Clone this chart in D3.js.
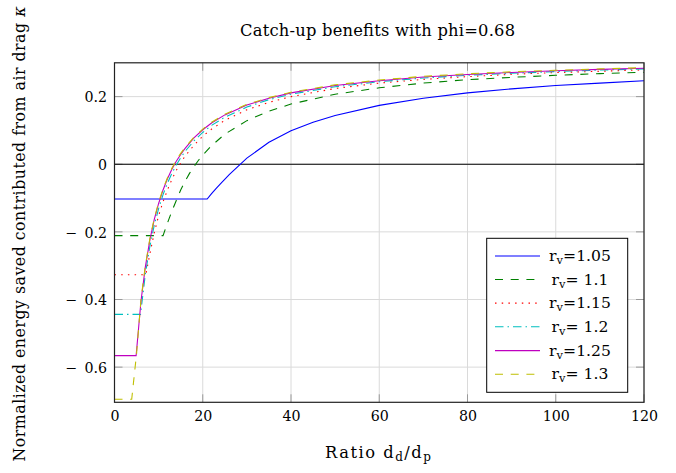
<!DOCTYPE html>
<html><head><meta charset="utf-8">
<script src="https://cdn.jsdelivr.net/npm/d3@7"></script>
<style>body{margin:0;background:#fff} svg text{font-family:"DejaVu Serif";}</style>
</head><body>
<svg id="c" width="676" height="473" xmlns="http://www.w3.org/2000/svg"></svg>
<script>
// ---- data ----
const xTicks = [0, 20, 40, 60, 80, 100, 120];
const yTicks = [-0.6, -0.4, -0.2, 0, 0.2];
const rvLabels = ["1.05", " 1.1", "1.15", " 1.2", "1.25", " 1.3"];

const x_rv105 = [0, 21, 22, 23, 24, 26, 28, 30, 35, 40, 45, 50, 60, 70, 80, 90, 100, 110, 120];
const y_rv105 = [-0.103, -0.103, -0.087, -0.072, -0.058, -0.031, -0.006, 0.018, 0.065, 0.099, 0.124, 0.144, 0.174, 0.195, 0.211, 0.223, 0.233, 0.240, 0.247];

const x_rv110 = [0, 11, 12, 13, 14, 15, 16, 17, 18, 19, 20, 22, 25, 30, 35, 40, 50, 60, 70, 80, 90, 100, 110, 120];
const y_rv110 = [-0.211, -0.211, -0.174, -0.139, -0.107, -0.076, -0.050, -0.027, -0.007, 0.011, 0.027, 0.055, 0.089, 0.129, 0.157, 0.178, 0.207, 0.226, 0.240, 0.250, 0.257, 0.263, 0.268, 0.272];

const x_rv115 = [0, 7.1, 8, 9, 10, 11, 12, 13, 14, 15, 16, 18, 20, 22, 25, 30, 35, 40, 50, 60, 70, 80, 90, 100, 110, 120];
const y_rv115 = [-0.327, -0.327, -0.266, -0.203, -0.152, -0.111, -0.076, -0.045, -0.018, 0.004, 0.024, 0.056, 0.083, 0.104, 0.130, 0.161, 0.183, 0.200, 0.224, 0.240, 0.251, 0.259, 0.266, 0.271, 0.275, 0.279];

const x_rv120 = [0, 5.9, 7, 8, 9, 10, 11, 12, 13, 14, 15, 16, 18, 20, 22, 25, 30, 35, 40, 50, 60, 70, 80, 90, 100, 110, 120];
const y_rv120 = [-0.444, -0.444, -0.324, -0.244, -0.181, -0.131, -0.090, -0.056, -0.027, -0.002, 0.019, 0.038, 0.069, 0.094, 0.115, 0.139, 0.169, 0.191, 0.207, 0.229, 0.244, 0.255, 0.263, 0.269, 0.274, 0.2785, 0.282];

const x_rv125 = [0, 4.9, 6, 7, 8, 9, 10, 11, 12, 13, 14, 15, 16, 18, 20, 22, 25, 30, 35, 40, 50, 60, 70, 80, 90, 100, 110, 120];
const y_rv125 = [-0.566, -0.566, -0.405, -0.303, -0.225, -0.164, -0.116, -0.076, -0.043, -0.015, 0.009, 0.029, 0.047, 0.078, 0.102, 0.122, 0.146, 0.175, 0.195, 0.211, 0.233, 0.247, 0.258, 0.2655, 0.2715, 0.2765, 0.2805, 0.284];

const x_rv130 = [0, 3.9, 5, 6, 7, 8, 9, 10, 11, 12, 13, 14, 15, 16, 18, 20, 22, 25, 30, 35, 40, 50, 60, 70, 80, 90, 100, 110, 120];
const y_rv130 = [-0.695, -0.695, -0.560, -0.400, -0.299, -0.221, -0.161, -0.113, -0.073, -0.040, -0.012, 0.012, 0.032, 0.050, 0.080, 0.104, 0.124, 0.148, 0.177, 0.197, 0.213, 0.235, 0.249, 0.260, 0.2675, 0.2735, 0.278, 0.282, 0.2855];

// ---- styling ----
const colors = ["#0000ff", "#008000", "#ff0000", "#00bfbf", "#bf00bf", "#bfbf00"];
const dashes = [null, "8,7.7", "1.5,5.2", "8.5,4,1.5,4", null, "8,7.7"];

const series = [
  [x_rv105, y_rv105], [x_rv110, y_rv110], [x_rv115, y_rv115],
  [x_rv120, y_rv120], [x_rv125, y_rv125], [x_rv130, y_rv130]
].map(([xs, ys], i) => ({ label: rvLabels[i], pts: xs.map((v, j) => [v, ys[j]]) }));

const L = 114.5, R = 644, T = 62.8, B = 402.3;
const x = d3.scaleLinear().domain([0, 120]).range([L, R]);
const y = d3.scaleLinear().domain([-0.704, 0.3]).range([B, T]);

const svg = d3.select("#c");
svg.append("rect").attr("width", 676).attr("height", 473).attr("fill", "#fff");

// grid
const grid = svg.append("g").attr("stroke", "#dadada").attr("stroke-width", 1);
grid.selectAll(".gx").data(xTicks).join("line")
  .attr("x1", d => x(d)).attr("x2", d => x(d)).attr("y1", T).attr("y2", B);
grid.selectAll(".gy").data(yTicks).join("line")
  .attr("x1", L).attr("x2", R).attr("y1", d => y(d)).attr("y2", d => y(d));

// tick marks (inward, all four sides)
const tickLen = 8;
const tk = svg.append("g").attr("stroke", "#9a9a9a").attr("stroke-width", 1);
xTicks.forEach(d => {
  tk.append("line").attr("x1", x(d)).attr("x2", x(d)).attr("y1", B).attr("y2", B - tickLen);
  tk.append("line").attr("x1", x(d)).attr("x2", x(d)).attr("y1", T).attr("y2", T + tickLen);
});
yTicks.forEach(d => {
  tk.append("line").attr("x1", L).attr("x2", L + tickLen).attr("y1", y(d)).attr("y2", y(d));
  tk.append("line").attr("x1", R).attr("x2", R - tickLen).attr("y1", y(d)).attr("y2", y(d));
});

// zero line
svg.append("line").attr("x1", L).attr("x2", R).attr("y1", y(0)).attr("y2", y(0))
  .attr("stroke", "#000").attr("stroke-width", 1.1);

// curves
svg.append("clipPath").attr("id", "clip").append("rect")
  .attr("x", L).attr("y", T).attr("width", R - L).attr("height", B - T);
const line = d3.line().x(d => x(d[0])).y(d => y(d[1])).curve(d3.curveLinear);
const curves = svg.append("g").attr("clip-path", "url(#clip)");
series.forEach((s, i) => {
  curves.append("path").attr("d", line(s.pts)).attr("fill", "none")
    .attr("stroke", colors[i]).attr("stroke-width", 1.1)
    .attr("stroke-dasharray", dashes[i]);
});

// frame
svg.append("rect").attr("x", L).attr("y", T).attr("width", R - L).attr("height", B - T)
  .attr("fill", "none").attr("stroke", "#222").attr("stroke-width", 1.2);

// axes labels via d3 axes (ticks hidden, labels only)
const xAxis = d3.axisBottom(x).tickValues(xTicks).tickSize(0).tickPadding(0).tickFormat(d3.format("d"));
const gx = svg.append("g").attr("transform", `translate(0,${B})`).call(xAxis);
gx.attr("font-family", null);
gx.select(".domain").remove();
gx.selectAll("text").attr("font-size", 14.2).attr("fill", "#000")
  .attr("dy", null).attr("y", 18.4);

const fmtY = d => d === 0 ? "0" : (d < 0 ? "\u2212\u2002" + Math.abs(d).toFixed(1) : d.toFixed(1));
const yAxis = d3.axisLeft(y).tickValues(yTicks).tickSize(0).tickPadding(0).tickFormat(fmtY);
const gy = svg.append("g").attr("transform", `translate(${L - 7.5},0)`).call(yAxis);
gy.attr("font-family", null);
gy.select(".domain").remove();
gy.selectAll("text").attr("font-size", 14.2).attr("fill", "#000")
  .attr("dy", null).attr("y", 5.3).attr("x", 0);

// title
svg.append("text").attr("x", 377.5).attr("y", 36).attr("text-anchor", "middle")
  .attr("font-size", 16.3).attr("textLength", 275).attr("lengthAdjust", "spacing")
  .text("Catch-up benefits with phi=0.68");

// x label
const xl = svg.append("text").attr("x", 378).attr("y", 457.5).attr("text-anchor", "middle")
  .attr("font-size", 16.3).attr("textLength", 106).attr("lengthAdjust", "spacing");
xl.append("tspan").text("Ratio d");
xl.append("tspan").attr("font-size", 12).attr("dy", 3).text("d");
xl.append("tspan").attr("dy", -3).text("/d");
xl.append("tspan").attr("font-size", 12).attr("dy", 3).text("p");

// y label
const yl = svg.append("text").attr("transform", "translate(24.5,234) rotate(-90)")
  .attr("text-anchor", "middle").attr("font-size", 15.8)
  .attr("textLength", 455).attr("lengthAdjust", "spacing");
yl.append("tspan").text("Normalized energy saved contributed from air drag ");
yl.append("tspan").attr("font-style", "italic").text("\u03BA");

// legend
const lg = svg.append("g");
lg.append("rect").attr("x", 486.7).attr("y", 238.3).attr("width", 141).attr("height", 154)
  .attr("fill", "#fff").attr("stroke", "#000").attr("stroke-width", 1);
const rowY = [256, 279.5, 303.1, 326.7, 350.6, 374.3];
series.forEach((s, i) => {
  lg.append("line").attr("x1", 495).attr("x2", 540).attr("y1", rowY[i]).attr("y2", rowY[i])
    .attr("stroke", colors[i]).attr("stroke-width", 1.1).attr("stroke-dasharray", dashes[i]);
  const t = lg.append("text").attr("x", 580).attr("y", rowY[i] + 5).attr("text-anchor", "middle")
    .attr("font-size", 15.6).style("white-space", "pre");
  t.append("tspan").text("r");
  t.append("tspan").attr("font-size", 11.5).attr("dy", 3).text("v");
  t.append("tspan").attr("dy", -3).text("=" + s.label);
});
</script>
</body></html>
